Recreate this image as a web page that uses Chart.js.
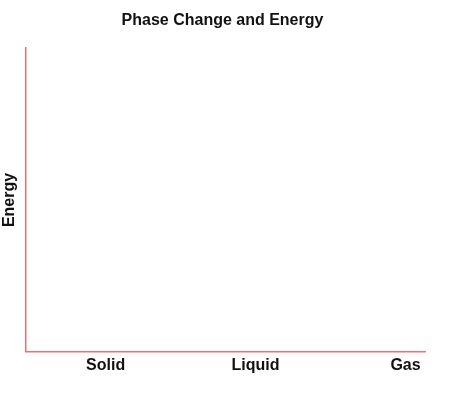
<!DOCTYPE html>
<html>
<head>
<meta charset="utf-8">
<script src="https://cdn.jsdelivr.net/npm/chart.js@4/dist/chart.umd.min.js"></script>
<style>
  html, body { margin: 0; padding: 0; background: #fff; }
  #wrap { width: 457px; height: 407px; }
</style>
</head>
<body>
<div id="wrap"><canvas id="phaseChart"></canvas></div>
<script>
// phases along the x axis, the chart has no plotted energy values
const phases = ['Solid', 'Liquid', 'Gas'];
const energy = [];

const axisRed = '#f26d78';

const ctx = document.getElementById('phaseChart').getContext('2d');
const phaseChart = new Chart(ctx, {
    type: 'line',
    data: {
        datasets: [{
            label: 'Energy',
            data: energy,
            borderColor: axisRed
        }]
    },
    options: {
        responsive: true,
        maintainAspectRatio: false,
        animation: false,
        layout: {
            padding: { left: 0, right: 12, top: 0, bottom: 28 }
        },
        plugins: {
            legend: { display: false },
            tooltip: { enabled: false },
            title: {
                display: true,
                text: 'Phase Change and Energy',
                color: '#111',
                font: { family: 'Liberation Sans', size: 16, weight: 'bold' },
                padding: { top: 11, bottom: 18 }
            }
        },
        scales: {
            x: {
                type: 'linear',
                min: -0.53,
                max: 2.13,
                afterBuildTicks: function (axis) {
                    axis.ticks = phases.map((p, i) => ({ value: i }));
                },
                grid: { display: false, drawTicks: false },
                border: { display: true, color: axisRed, width: 1.5 },
                ticks: {
                    padding: 4,
                    color: '#111',
                    font: { family: 'Liberation Sans', size: 16, weight: 'bold' },
                    callback: function (value) { return phases[value]; }
                }
            },
            y: {
                min: 0,
                max: 10,
                grid: { display: false, drawTicks: false },
                border: { display: true, color: axisRed, width: 1.5 },
                ticks: { display: false },
                title: {
                    display: true,
                    text: 'Energy',
                    color: '#111',
                    font: { family: 'Liberation Sans', size: 16, weight: 'bold' },
                    padding: { top: 0, bottom: 7 }
                }
            },
            // empty spacer on the right so the title sits where it should
            spacer: {
                position: 'right',
                grid: { display: false, drawTicks: false },
                border: { display: false },
                ticks: { display: false },
                afterFit: function (axis) { axis.width = 20; }
            }
        }
    }
});
</script>
</body>
</html>
